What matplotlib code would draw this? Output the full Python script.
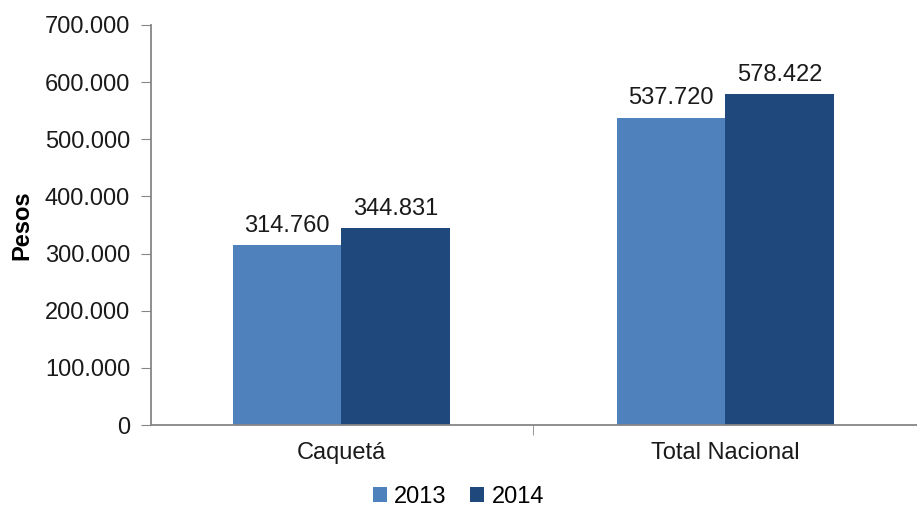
import matplotlib.pyplot as plt
import numpy as np

categories = ['Caquetá', 'Total Nacional']
years = ['2013', '2014']
values_2013 = [314760, 537720]
values_2014 = [344831, 578422]
colors = ['#4F81BD', '#1F497D']

plt.rcParams['font.family'] = ['Liberation Sans', 'DejaVu Sans']


def fmt(v):
    return '{:,.0f}'.format(v).replace(',', '.')


fig = plt.figure(figsize=(9.17, 5.12), dpi=100)
ax = fig.add_axes([151 / 917, 1 - 425 / 512, 766 / 917, 400 / 512])

ind = np.arange(len(categories))
width = 0.283

rects1 = ax.bar(ind - width / 2, values_2013, width, color=colors[0], label=years[0])
rects2 = ax.bar(ind + width / 2, values_2014, width, color=colors[1], label=years[1])

for rects in (rects1, rects2):
    for rect in rects:
        h = rect.get_height()
        ax.annotate(fmt(h), xy=(rect.get_x() + rect.get_width() / 2, h),
                    xytext=(0, 6), textcoords='offset points',
                    ha='center', va='bottom', fontsize=17, color='#1a1a1a')

ax.set_ylim(0, 700000)
ax.set_xlim(-0.496, -0.496 + 766 / 389)
ax.set_yticks(np.arange(0, 700001, 100000))
ax.set_yticklabels([fmt(v) for v in np.arange(0, 700001, 100000)], fontsize=17, color='#1a1a1a')
ax.set_xticks(ind)
ax.set_xticklabels(categories, fontsize=17, color='#1a1a1a')
ax.set_xticks([0.5, 1.5], minor=True)
ax.tick_params(axis='x', which='major', length=0, pad=12)
ax.tick_params(axis='x', which='minor', length=7, color='#868686', direction='out')
ax.tick_params(axis='y', length=7, color='#868686', direction='out', pad=8)

for side in ('top', 'right'):
    ax.spines[side].set_visible(False)
for side in ('left', 'bottom'):
    ax.spines[side].set_color('#868686')
    ax.spines[side].set_linewidth(1.3)

ax.set_ylabel('Pesos', fontsize=17, fontweight='bold', labelpad=8)

fig.legend(handles=[rects1, rects2], labels=years, loc='center',
           bbox_to_anchor=(0.5, 1 - 497 / 512), ncol=2, frameon=False,
           fontsize=17, handlelength=0.6, handleheight=0.6, handletextpad=0.3,
           columnspacing=1.0)

plt.savefig('out.png', dpi=100)
